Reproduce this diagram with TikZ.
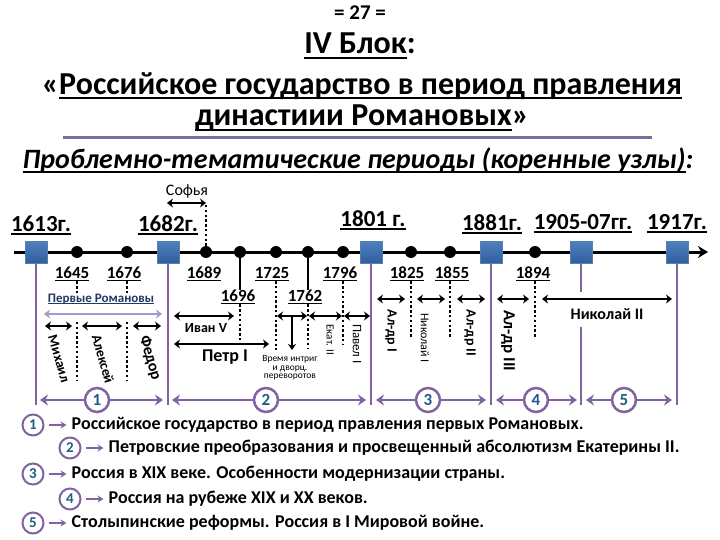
\documentclass[tikz,border=0pt]{standalone}
\usepackage{fontspec}
\setmainfont{Carlito}
\usepackage{tikz}
\usetikzlibrary{arrows.meta,positioning,calc}
\definecolor{lilac}{HTML}{8064A2}
\definecolor{lilacpale}{HTML}{A898CC}
\definecolor{rulegrey}{HTML}{7B6E9C}
\definecolor{sqtop}{HTML}{4F81BD}
\definecolor{sqbot}{HTML}{2F5F9E}
\definecolor{numblue}{HTML}{245A86}
\definecolor{navy}{HTML}{1F3864}
\newsavebox\ulbox
\newcommand\ulwith[2]{\sbox\ulbox{#2}\rlap{\rule[-0.16em]{\wd\ulbox}{#1}}\usebox\ulbox}
\newcommand\ulthin[1]{\ulwith{1.2pt}{#1}}
\newcommand\ulbold[1]{\ulwith{2pt}{#1}}
\newcommand\fs[1]{\fontsize{#1}{#1}\selectfont}
\tikzset{
  yearsq/.style={rectangle, minimum size=22pt, inner sep=0pt, top color=sqtop, bottom color=sqbot, draw=sqbot!80, line width=0.4pt},
  ydot/.style={circle, fill=black, minimum size=12pt, inner sep=0pt},
  yrup/.style={font=\bfseries\fs{23}, inner sep=0pt},
  yrlow/.style={font=\bfseries\fs{17}, inner sep=0pt},
  axis/.style={-{Stealth[length=10pt,width=12pt]}, line width=3pt},
  period/.style={draw=lilac, line width=2.5pt},
  parrow/.style={arrows={Stealth[length=8pt,width=11pt]-Stealth[length=8pt,width=11pt]}, draw=lilac, line width=2.5pt},
  pnum/.style={circle, draw=lilac, line width=2.5pt, fill=white, minimum size=24pt, inner sep=0pt, text=numblue, font=\bfseries\fs{17}},
  lnum/.style={pnum, minimum size=21pt, line width=2pt, font=\bfseries\fs{15}},
  larrow/.style={-{Stealth[length=6pt,width=7pt]}, draw=lilac, line width=1.6pt},
  ltext/.style={font=\bfseries\fs{18}, inner sep=0pt, anchor=west},
  reignarrow/.style={arrows={Stealth[length=6pt,width=9pt]-Stealth[length=6pt,width=9pt]}, line width=2pt},
  dotline/.style={line width=2.4pt, dash pattern=on 2.4pt off 2.4pt},
  reign/.style={font=\bfseries\fs{14}, inner sep=0pt, rotate=-90},
  reignthin/.style={reign, font=\fs{12}},
  ttl/.style={font=\bfseries\fs{32}, inner sep=0pt}
}
\begin{document}
\begin{tikzpicture}[x=1pt,y=-1pt,node distance=5pt]
  \useasboundingbox[fill=white] (0,0) rectangle (720,540);
  \node[font=\bfseries\fs{21}, inner sep=0pt] (page) at (360,13) {= 27 =};
  \node[ttl, font=\bfseries\fs{32}] (blok) at (360,46) {\ulbold{IV Блок}:};
  \node[ttl] (head1) at (362,86) {«\ulbold{Российское государство в период правления}};
  \node[ttl] (head2) at (362,118) {\ulbold{династиии Романовых}»};
  \coordinate (ruleL) at (63,138);
  \coordinate (ruleR) at (652,138);
  \draw[rulegrey, line width=3pt] (ruleL) -- (ruleR);
  \node[font=\bfseries\itshape\fs{28}, inner sep=0pt] (sub) at (358,160) {\ulbold{Проблемно-тематические периоды (коренные узлы)}:};

  \coordinate (tl0) at (14,252);
  \coordinate (tl1) at (708,252);
  \draw[axis] (tl0) -- (tl1);
  \coordinate (base) at (0,405);
  \coordinate (gapTop) at (0,292);
  \coordinate (gapBot) at (0,327);
  \foreach \n/\x in {1613/36,1682/168,1801/371,1881/491,1905/581,1917/677}
    \node[yearsq] (sq\n) at (\x,252) {};
  \foreach \n in {1613,1682,1801,1881,1917}
    \draw[period] (sq\n.south) -- (sq\n.south |- base);
  \draw[period] (sq1905.south) -- (sq1905.south |- gapTop);
  \draw[period] (sq1905 |- gapBot) -- (sq1905.south |- base);
  \foreach \n/\x in {1645/77,1676/127,1689/206,1696/240,1725/276,1762/308,1796/343,1825/411,1855/450,1894/535}
    \node[ydot] (d\n) at (\x,252) {};

  \foreach \n/\x/\y/\lbl in {1613/41/225/1613г.,1682/168/225/1682г.,1801/373/220/1801 г.,1881/492/224/1881г.,1905/583/224/1905-07гг.,1917/677/224/1917г.}
    \node[yrup] (y\n) at (\x,\y) {\ulbold{\lbl}};
  \foreach \n/\x/\y in {1645/72/274,1676/124/274,1689/204/274,1725/272/274,1796/340/274,1696/238/297,1762/305/297,1825/407/274,1855/452/274,1894/533/274}
    \node[yrlow] (l\n) at (\x,\y) {\ulthin{\n}};
  \draw[line width=2pt] (d1696) -- (d1696 |- l1696.north);
  \draw[line width=2pt] (d1762) -- (d1762 |- l1762.north);

  \coordinate (sofL) at (167,203);
  \coordinate (sofR) at (206,203);
  \draw[dotline] (d1689) -- (sofR);
  \draw[reignarrow] (sofL) -- (sofR);
  \node[font=\fs{16}, inner sep=0pt] (sofia) at (187,191) {Софья};

  \node[font=\bfseries\fs{13}, text=navy, inner sep=0pt] (first) at (101,299) {\ulthin{Первые Романовы}};
  \foreach \n in {1645,1676} {
    \draw[dotline] (d\n |- l\n.south) -- (d\n |- first.north);
    \draw[dotline] (d\n |- 0,322) -- (d\n |- 0,381);
  }
  \coordinate (romL) at (44,314);
  \coordinate (romR) at (162,314);
  \draw[arrows={Stealth[length=6pt,width=9pt]-Stealth[length=6pt,width=9pt]}, draw=lilacpale, line width=2.5pt] (romL) -- (romR);
  \foreach \a/\b in {45/72,82/122,133/161}
    \draw[reignarrow] (\a,326) -- (\b,326);
  \node[reign, rotate=16] (mikhail) at (59,359) {Михаил};
  \node[reign, rotate=16] (aleksei) at (103,359) {Алексей};
  \node[reign, rotate=16, font=\bfseries\fs{16}] (fedor) at (150,358) {Федор};

  \draw[dotline] (d1696 |- l1696.south) -- (d1696 |- 0,340);
  \draw[dotline] (d1725 |- l1725.south) -- (d1725 |- 0,350);
  \draw[dotline] (d1762 |- l1762.south) -- (d1762 |- 0,348);
  \draw[dotline] (d1796 |- l1796.south) -- (d1796 |- 0,345);
  \draw[reignarrow] (174,316) -- (234,316);
  \node[font=\bfseries\fs{14}, inner sep=0pt] (ivan) at (206,328) {Иван V};
  \draw[reignarrow] (174,344) -- (269,344);
  \node[font=\bfseries\fs{18}, inner sep=0pt] (petr) at (225,357) {Петр I};
  \foreach \a/\b in {277/307,309/342,344/370}
    \draw[reignarrow] (\a,316) -- (\b,316);
  \coordinate (intrigTop) at (292,316);
  \node[font=\fs{9.5}, align=center, inner sep=0pt] (intrig) at (290,368) {Время интриг\\[-1pt]и дворц.\\[-1pt]переворотов};
  \draw[-{Stealth[length=6pt,width=8pt]}, line width=2pt] (intrigTop) -- (intrigTop |- 0,350);
  \node[reignthin, font=\fs{11}] (ekat) at (330,340) {Екат. II};
  \node[reignthin, font=\fs{13}] (pavel) at (357,344) {Павел I};

  \foreach \n in {1825,1855,1894}
    \draw[dotline] (d\n |- l\n.south) -- (d\n |- 0,338);
  \foreach \a/\b in {377/405,417/445,457/485,497/529,542/672}
    \draw[reignarrow] (\a,299) -- (\b,299);
  \node[reign] (alex1) at (391,331) {Ал-др I};
  \node[reignthin] (nik1) at (425,338) {Николай I};
  \node[reign] (alex2) at (470,333) {Ал-др II};
  \node[reign, font=\bfseries\fs{17}] (alex3) at (508,341) {Ал-др III};
  \node[font=\bfseries\fs{16}, inner sep=0pt] (nik2) at (607,314) {Николай II};

  \foreach \k/\a/\b/\c in {1/40/163/97,2/172/366/266,3/376/486/428,4/496/577/536,5/586/672/624} {
    \draw[parrow] (\a,400) -- (\b,400);
    \node[pnum] (p\k) at (\c,400) {\k};
  }

  \node[lnum] (g1) at (33,425) {1};
  \node[lnum] (g2) at (70,448) {2};
  \node[lnum] (g3) at (33,474) {3};
  \node[lnum] (g4) at (70,499) {4};
  \node[lnum] (g5) at (33,523) {5};
  \node[ltext, right=27pt of g1] (t1) {Российское государство в период правления первых Романовых.};
  \node[ltext, right=27pt of g2] (t2) {Петровские преобразования и просвещенный абсолютизм Екатерины II.};
  \node[ltext, right=27pt of g3] (t3) {Россия в XIX веке. Особенности модернизации страны.};
  \node[ltext, right=27pt of g4] (t4) {Россия на рубеже XIX и XX веков.};
  \node[ltext, right=27pt of g5] (t5) {Столыпинские реформы. Россия в I Мировой войне.};
  \foreach \k in {1,...,5}
    \draw[larrow, shorten <=4pt, shorten >=5pt] (g\k) -- (t\k);
\end{tikzpicture}
\end{document}
